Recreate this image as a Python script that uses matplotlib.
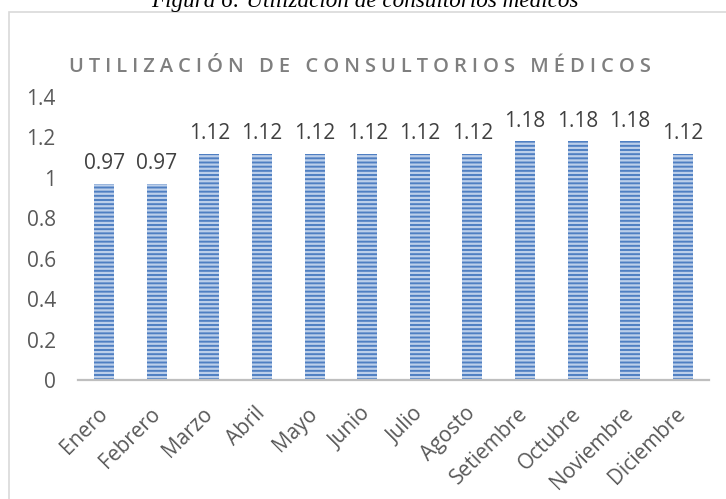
import matplotlib
matplotlib.use('Agg')
from matplotlib import pyplot as plt
from matplotlib.patches import Rectangle

# datos
meses = ['Enero', 'Febrero', 'Marzo', 'Abril', 'Mayo', 'Junio', 'Julio',
         'Agosto', 'Setiembre', 'Octubre', 'Noviembre', 'Diciembre']
utilizacion = [0.97, 0.97, 1.12, 1.12, 1.12, 1.12, 1.12, 1.12, 1.18, 1.18, 1.18, 1.12]
yticks = [0, 0.2, 0.4, 0.6, 0.8, 1.0, 1.2, 1.4]
ytick_labels = ['0', '0.2', '0.4', '0.6', '0.8', '1', '1.2', '1.4']
titulo = 'UTILIZACIÓN DE CONSULTORIOS MÉDICOS'
leyenda = 'Figura 6: Utilización de consultorios médicos'

plt.rcParams['font.family'] = ['Open Sans', 'DejaVu Sans']
plt.rcParams['hatch.linewidth'] = 1.6

fig = plt.figure(figsize=(7.26, 4.99), dpi=100)
ax = fig.add_axes([78 / 726, 1 - 380 / 499, 631 / 726, 283 / 499])

x = range(len(meses))
ax.bar(x, utilizacion, width=0.38, color='#4f7fc2', edgecolor='#bccfea',
       linewidth=0, hatch='----')

for i, v in enumerate(utilizacion):
    ax.annotate(f'{v:.2f}', (i, v), xytext=(0, 7), textcoords='offset points',
                ha='center', va='bottom', fontsize=15, color='#404040')

ax.set_xlim(-0.5, len(meses) - 0.5)
ax.set_ylim(0, 1.4)
ax.set_yticks(yticks)
ax.set_yticklabels(ytick_labels)
ax.set_xticks(list(x))
ax.set_xticklabels(meses, rotation=45, ha='right', va='center',
                   rotation_mode='anchor')
ax.tick_params(axis='both', length=0, labelsize=15, labelcolor='#595959')
ax.tick_params(axis='y', pad=16)
ax.tick_params(axis='x', pad=22)
for s in ['top', 'right', 'left']:
    ax.spines[s].set_visible(False)
ax.spines['bottom'].set_color('#bfbfbf')
ax.spines['bottom'].set_linewidth(1.6)

# marco del grafico
fig.patches.append(Rectangle((9 / 726, -0.1), 1.2, 1 - 12 / 499 + 0.1,
                             transform=fig.transFigure, fill=False,
                             edgecolor='#d9d9d9', linewidth=1.2))

# titulo con espaciado entre letras
titulo_esp = '\u2005'.join(titulo)
fig.text(360 / 726, 1 - 67 / 499, titulo_esp, ha='center', va='center',
         fontsize=14.5, fontweight='semibold', color='#7f7f7f')

# leyenda de la figura (recortada arriba)
fig.text(365 / 726, 1 - 7 / 499, leyenda, ha='center', va='baseline',
         fontsize=16.7, style='italic', family=['Liberation Serif'],
         color='#000000')

plt.savefig('out.png', dpi=100)
